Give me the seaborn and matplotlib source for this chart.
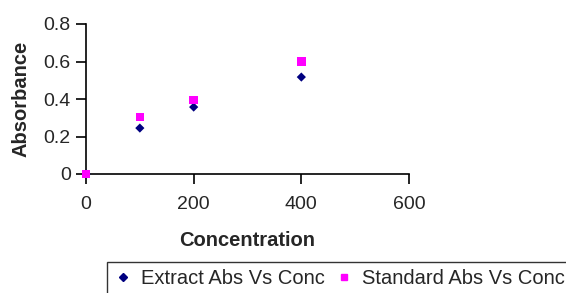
import pandas as pd
import matplotlib.pyplot as plt
import seaborn as sns

# Data
conc = [0, 100, 200, 400]
extract_abs = [0.0, 0.245, 0.357, 0.517]
standard_abs = [0.0, 0.304, 0.395, 0.60]

df = pd.DataFrame({
    'Concentration': conc * 2,
    'Absorbance': extract_abs + standard_abs,
    'Series': ['Extract Abs Vs Conc'] * len(conc) + ['Standard Abs Vs Conc'] * len(conc),
})

sns.set_style('white')
plt.rcParams['font.family'] = ['Liberation Sans', 'DejaVu Sans']

fig = plt.figure(figsize=(5.66, 2.93), dpi=100)
ax = fig.add_axes([86 / 566, 119 / 293, 323 / 566, 150 / 293])

sns.scatterplot(data=df, x='Concentration', y='Absorbance', hue='Series', style='Series',
                palette={'Extract Abs Vs Conc': '#000080', 'Standard Abs Vs Conc': '#FF00FF'},
                markers={'Extract Abs Vs Conc': 'D', 'Standard Abs Vs Conc': 's'},
                size='Series', sizes={'Extract Abs Vs Conc': 22, 'Standard Abs Vs Conc': 38},
                edgecolor='none', ax=ax, legend=False, clip_on=False, zorder=3)

ax.set_xlim(0, 600)
ax.set_ylim(0, 0.8)
ax.set_xticks([0, 200, 400, 600])
ax.set_yticks([0, 0.2, 0.4, 0.6, 0.8])
ax.set_yticklabels(['0', '0.2', '0.4', '0.6', '0.8'])
for side in ['top', 'right']:
    ax.spines[side].set_visible(False)
for side in ['left', 'bottom']:
    ax.spines[side].set_color('black')
    ax.spines[side].set_linewidth(1.2)
ax.tick_params(axis='both', direction='out', length=7, width=1.2, color='black',
               labelsize=14, bottom=True, left=True)
ax.tick_params(axis='x', pad=9)
ax.tick_params(axis='y', pad=4)
ax.set_xlabel('Concentration', fontsize=14.5, fontweight='bold', labelpad=13)
ax.set_ylabel('Absorbance', fontsize=14.5, fontweight='bold', labelpad=9)

handles = [
    plt.Line2D([], [], marker='D', color='#000080', linestyle='none', markersize=4),
    plt.Line2D([], [], marker='s', color='#FF00FF', linestyle='none', markersize=5),
]
leg = fig.legend(handles, ['Extract Abs Vs Conc', 'Standard Abs Vs Conc'], ncol=2,
                 loc='upper left', bbox_to_anchor=(107 / 566, 1 - 262 / 293),
                 fontsize=14.5, frameon=True, fancybox=False, handlelength=0.9,
                 handletextpad=0.45, columnspacing=0.5, borderpad=0.35, borderaxespad=0)
leg.get_frame().set_edgecolor('black')
leg.get_frame().set_linewidth(1.0)

fig.savefig('out.png', dpi=100)
